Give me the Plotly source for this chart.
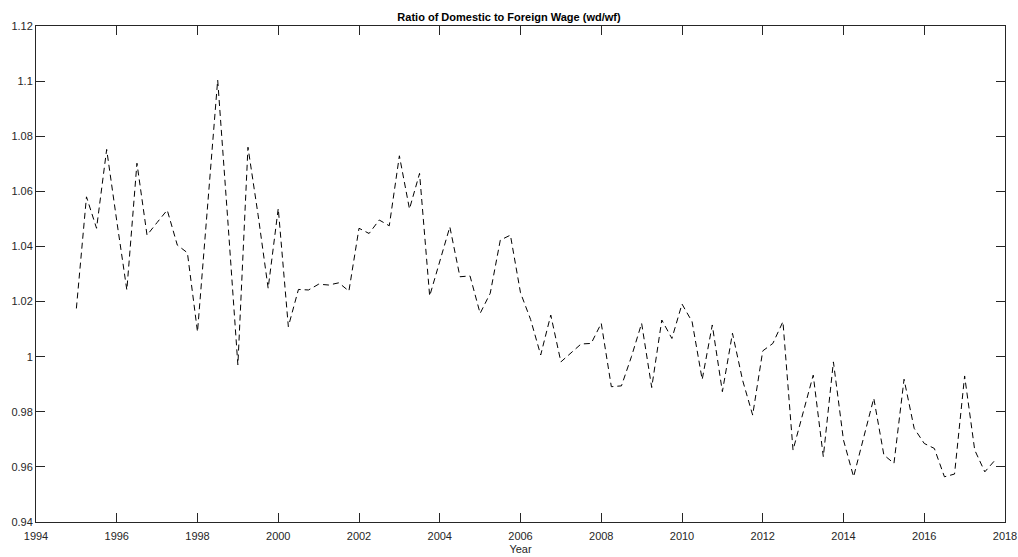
import numpy as np
import plotly.graph_objects as go

# Quarterly observations, 1995Q1 .. 2017Q4
start_year = 1995.0
ratio = [
    1.0175, 1.058, 1.0466, 1.0752, 1.0493, 1.0242, 1.0702, 1.0441,
    1.0487, 1.0532, 1.0405, 1.0377, 1.009, 1.0546, 1.1004, 1.0496,
    0.997, 1.076, 1.0515, 1.0248, 1.0538, 1.0109, 1.0244, 1.0242,
    1.0263, 1.026, 1.0268, 1.0238, 1.0466, 1.0447, 1.0496, 1.0475,
    1.0729, 1.0536, 1.0665, 1.022, 1.0346, 1.0471, 1.029, 1.0293,
    1.0157, 1.023, 1.0423, 1.0441, 1.0232, 1.0135, 1.0006, 1.0151,
    0.9981, 1.0012, 1.0046, 1.0048, 1.0121, 0.9891, 0.9894, 1.0001,
    1.0121, 0.9888, 1.0133, 1.0066, 1.0191, 1.0127, 0.9917, 1.0115,
    0.9873, 1.0085, 0.9915, 0.9788, 1.0021, 1.0048, 1.0127, 0.9661,
    0.9797, 0.9933, 0.9637, 0.9981, 0.9697, 0.9564, 0.9707, 0.9849,
    0.9643, 0.9613, 0.9918, 0.974, 0.9685, 0.9667, 0.9564, 0.9574,
    0.993, 0.9661, 0.9582, 0.9624,
]
years = [start_year + 0.25 * i for i in range(len(ratio))]

x_ticks = [1994, 1996, 1998, 2000, 2002, 2004, 2006, 2008, 2010, 2012, 2014, 2016, 2018]
y_ticks = [0.94, 0.96, 0.98, 1.00, 1.02, 1.04, 1.06, 1.08, 1.10, 1.12]
y_tick_text = ["0.94", "0.96", "0.98", "1", "1.02", "1.04", "1.06", "1.08", "1.1", "1.12"]

axis_color = "#262626"
font_family = "Liberation Sans, Arial, Helvetica, sans-serif"

fig = go.Figure()
fig.add_trace(go.Scatter(
    x=years, y=ratio, mode="lines",
    line=dict(color="black", width=1, dash="6px,4px"),
    showlegend=False,
))

common_axis = dict(
    showgrid=False, zeroline=False, automargin=False,
    showline=True, linecolor=axis_color, linewidth=1,
    mirror="allticks", ticks="inside", ticklen=9, tickwidth=1,
    tickcolor=axis_color,
    tickfont=dict(family=font_family, size=11, color=axis_color),
)

fig.update_layout(
    width=1018, height=557,
    margin=dict(l=36, r=13, t=26, b=35),
    paper_bgcolor="white", plot_bgcolor="white",
    title=dict(
        text="<b>Ratio of Domestic to Foreign Wage (wd/wf)</b>",
        x=0.5, xanchor="center", y=1 - 17 / 557, yanchor="middle",
        font=dict(family=font_family, size=11, color="black"),
    ),
    xaxis=dict(
        range=[1994, 2018], tickvals=x_ticks,
        ticktext=[str(t) for t in x_ticks],
        ticklabelstandoff=4,
        title=dict(text="Year", standoff=4,
                   font=dict(family=font_family, size=11, color=axis_color)),
        **common_axis,
    ),
    yaxis=dict(
        range=[0.94, 1.12], tickvals=y_ticks, ticktext=y_tick_text,
        **common_axis,
    ),
)

fig.write_html("out.html")
